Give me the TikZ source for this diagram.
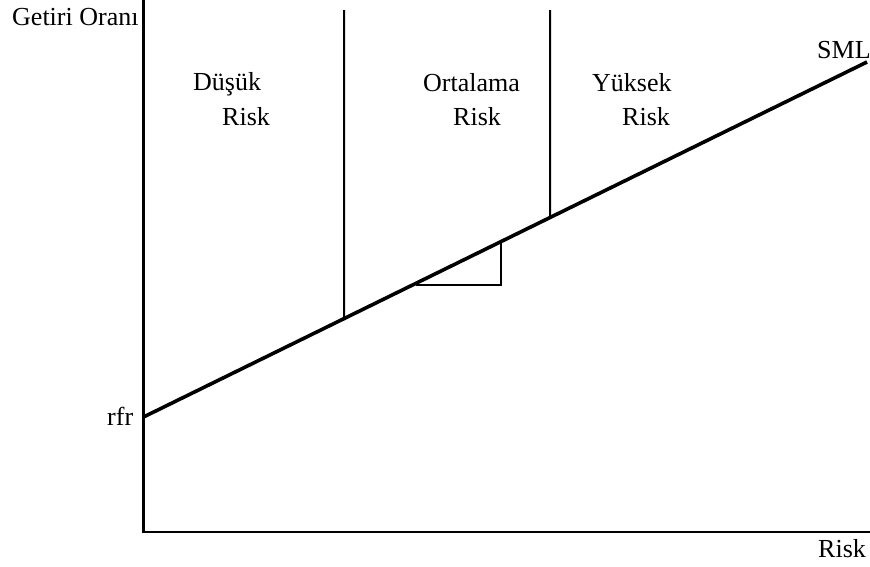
\documentclass[tikz,border=0pt]{standalone}
\usepackage{fontspec}
\setmainfont{Liberation Serif}
\usetikzlibrary{calc}
\begin{document}
\begin{tikzpicture}[x=1pt,y=-1pt,
  lbl/.style={anchor=base west,inner sep=0pt,font=\fontsize{26}{30}\selectfont},
  axis/.style={line width=2.2pt},
  smlline/.style={line width=3.6pt},
  divider/.style={line width=2pt},
  slopebox/.style={line width=1.6pt}]
\useasboundingbox (0,0) rectangle (870,566);
% axes
\coordinate (ytop) at (143.5,0);
\coordinate (origin) at (143.5,532);
\coordinate (xend) at (870,532);
\draw[axis,line cap=rect] (ytop) -- (origin) -- (xend);
% SML
\coordinate (rfrpt) at (143.5,417);
\coordinate (smlend) at (867,62);
\draw[smlline] (rfrpt) -- (smlend);
% dividers
\coordinate (d1top) at (344,10);
\coordinate (d1bot) at ($(rfrpt)!{(344-143.5)/723.5}!(smlend)$);
\coordinate (d2top) at (550,10);
\coordinate (d2bot) at ($(rfrpt)!{(550-143.5)/723.5}!(smlend)$);
\draw[divider] (d1top) -- (d1bot);
\draw[divider] (d2top) -- (d2bot);
% slope triangle
\coordinate (t1) at (416,285);
\coordinate (t2) at (501,285);
\coordinate (t3) at ($(rfrpt)!{(501-143.5)/723.5}!(smlend)$);
\draw[slopebox] (t1) -- (t2) -- (t3);
% labels
\node[lbl] (ylab) at (12,25) {Getiri Oranı};
\node[lbl] (xlab) at (818,557) {Risk};
\node[lbl] (smllab) at (817,58) {SML};
\node[lbl] (rfrlab) at (107,425) {rfr};
\node[lbl] (low1) at (193,90) {Düşük};
\node[lbl] (low2) at (222,125) {Risk};
\node[lbl] (mid1) at (423,91) {Ortalama};
\node[lbl] (mid2) at (453,125) {Risk};
\node[lbl] (high1) at (592,91) {Yüksek};
\node[lbl] (high2) at (622,125) {Risk};
\end{tikzpicture}
\end{document}
